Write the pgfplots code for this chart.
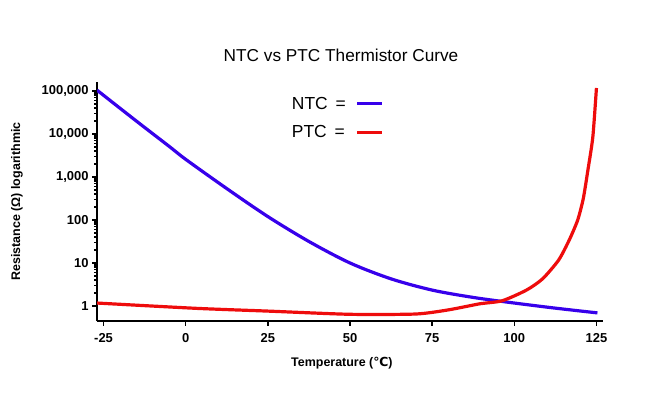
\documentclass[border=0pt]{standalone}
\usepackage{pgfplots}
\pgfplotsset{compat=1.18}
\usepackage{fontspec}
\setmainfont{Liberation Sans}
\newfontfamily\dejavu{DejaVu Sans}
\definecolor{ntcblue}{RGB}{55,0,235}
\definecolor{ptcred}{RGB}{238,12,12}
\begin{document}
\begin{tikzpicture}[x=1bp,y=1bp]
\path[use as bounding box] (0,0) rectangle (652,398);
\node[font=\fontsize{17.3}{17.3}\selectfont] at (341,343) {NTC vs PTC Thermistor Curve};
\begin{axis}[
  at={(97bp,77bp)}, anchor=south west,
  scale only axis, width=506bp, height=239bp,
  ymode=log,
  xmin=-27, xmax=127,
  ymin=0.447, ymax=1.62e5,
  axis x line*=bottom, axis y line*=left,
  axis line style={line width=2.6bp, black, -},
  xtick={-25,0,25,50,75,100,125},
  ytick={1,10,100,1000,10000,100000},
  yticklabels={1,10,100,{1,000},{10,000},{100,000}},
  minor ytick={}, 
  tick style={line width=1.5bp, black},
  tick align=outside,
  major tick length=5bp,
  ticklabel style={font=\bfseries\fontsize{13}{13}\selectfont},
  /pgf/number format/assume math mode=true,
  xticklabel style={yshift=-4bp},
  xlabel={\bfseries Temperature ({\dejavu\bfseries ℃})},
  ylabel={\bfseries Resistance (Ω) logarithmic},
  label style={font=\bfseries\fontsize{12.5}{12.5}\selectfont},
  xlabel style={at={(axis description cs:0.484,0)}, anchor=north, yshift=-33bp},
  ylabel style={yshift=12bp},
  legend plot pos=right,
  legend style={draw=none, fill=none, at={(0.375,0.955)}, anchor=north west,
    font=\fontsize{17.5}{17.5}\selectfont, row sep=11bp},
  legend cell align=left,
  legend image code/.code={\draw[#1, line width=3.2bp] (0bp,0bp) -- (25bp,0bp);},
]
\addplot[ntcblue, line width=3.2bp, smooth, tension=0.5] coordinates {
(-27,104700) (-15,19950) (-5,5130) (0,2570) (12.5,537) (25,120)
(37.5,31.6) (50,10) (62.5,4.27) (75,2.34) (87.5,1.58) (100,1.17)
(112.5,0.89) (125.3,0.69)
};
\addlegendentry{NTC \,=\hspace*{8bp}}
\addplot[ptcred, line width=3.2bp, smooth, tension=0.4] coordinates {
(-27,1.17) (3.3,0.88) (25,0.76) (50,0.64) (70,0.65) (79.9,0.81)
(89.4,1.12) (96.3,1.32) (103.7,2.34) (108.6,4.27) (113.5,11.7)
(116.7,33.9) (119.3,100) (121.0,316) (122.4,1445) (123.9,8510) (125,117500)
};
\addlegendentry{PTC \,=\hspace*{8bp}}
\end{axis}
\end{tikzpicture}
\end{document}
